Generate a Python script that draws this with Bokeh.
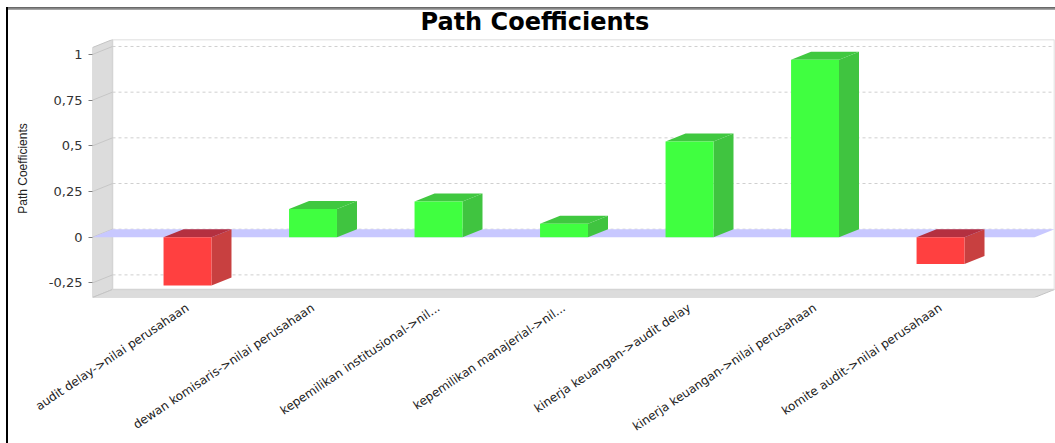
import numpy as np
from bokeh.plotting import figure
from bokeh.models import Range1d, FixedTicker, Title
from bokeh.embed import file_html
from bokeh.resources import INLINE

# ---------------- data ----------------
categories = [
    "audit delay->nilai perusahaan",
    "dewan komisaris->nilai perusahaan",
    "kepemilikan institusional->nil...",
    "kepemilikan manajerial->nil...",
    "kinerja keuangan->audit delay",
    "kinerja keuangan->nilai perusahaan",
    "komite audit->nilai perusahaan",
]
coefficients = [-0.264, 0.155, 0.195, 0.073, 0.524, 0.971, -0.146]
y_ticks = [-0.25, 0, 0.25, 0.5, 0.75, 1]
y_tick_labels = ["-0,25", "0", "0,25", "0,5", "0,75", "1"]
chart_title = "Path Coefficients"
y_axis_title = "Path Coefficients"

# ---------------- geometry (3D look) ----------------
X0, XR = -0.757, 6.908        # front-left edge, back-right edge
YB, YT = -0.330, 1.082        # front-bottom edge, back-top edge
DX, DY = 0.1594, 0.0438       # depth offsets
BW = 0.382                    # bar width
LABEL_SHIFT = 0.0

p = figure(width=1055, height=443, output_backend="svg", toolbar_location=None,
           x_range=Range1d(X0, XR), y_range=Range1d(YB, YT), title=None,
           min_border_left=92, min_border_right=1, min_border_top=39,
           min_border_bottom=146)
p.background_fill_color = "white"
p.border_fill_color = None
p.outline_line_color = None
p.grid.visible = False
# outer frame lines of the chart panel (top grey rule, left black rule)
p.styles = {
    "background": ("linear-gradient(#000000, #000000) 6px 7px / 2px 436px no-repeat, "
                   "linear-gradient(#5a5a5a, #b4b4b4) 6px 7px / 1049px 3px no-repeat, "
                   "white")
}

# title
p.add_layout(Title(text=chart_title, align="left", offset=328, standoff=7,
                   text_font="DejaVu Sans", text_font_style="bold",
                   text_font_size="24px", text_color="black"), "above")

# y axis
ya = p.yaxis[0]
ya.ticker = FixedTicker(ticks=y_ticks)
ya.major_label_overrides = {t: s for t, s in zip(y_ticks, y_tick_labels)}
ya.axis_line_color = None
ya.major_tick_line_color = "#808080"
ya.major_tick_out = 4
ya.major_tick_in = 0
ya.minor_tick_line_color = None
ya.major_label_standoff = 6
ya.major_label_text_font = "DejaVu Sans"
ya.major_label_text_font_size = "13px"
ya.major_label_text_color = "#333333"
ya.axis_label = y_axis_title
ya.axis_label_text_font = "Liberation Sans"
ya.axis_label_text_font_size = "12px"
ya.axis_label_text_font_style = "normal"
ya.axis_label_text_color = "#222222"
ya.axis_label_standoff = 16

# x axis (category labels)
idx = np.arange(len(categories))
x_tick_pos = [float(i) + LABEL_SHIFT for i in idx]
xa = p.xaxis[0]
xa.ticker = FixedTicker(ticks=x_tick_pos)
xa.major_label_overrides = {t: c for t, c in zip(x_tick_pos, categories)}
xa.major_label_orientation = 0.59
xa.axis_line_color = None
xa.major_tick_line_color = None
xa.major_tick_out = 0
xa.major_tick_in = 0
xa.minor_tick_line_color = None
xa.major_label_standoff = 9
xa.major_label_text_font = "DejaVu Sans"
xa.major_label_text_font_size = "12px"
xa.major_label_text_color = "#222222"

# left wall
p.patch([X0, X0, X0 + DX, X0 + DX], [YB, YT - DY, YT, YB + DY],
        fill_color="#dcdcdc", line_color="#c4c4c4", line_width=1)
# floor
p.patch([X0, X0 + DX, XR, XR - DX], [YB, YB + DY, YB + DY, YB],
        fill_color="#dcdcdc", line_color="#c4c4c4", line_width=1)
# back wall
p.quad(left=X0 + DX, right=XR, bottom=YB + DY, top=YT,
       fill_color="white", line_color="#d4d4d4", line_width=1.5)

# grid lines on back wall and left wall
n = len(y_ticks)
p.segment(x0=[X0 + DX] * n, y0=[t + DY for t in y_ticks],
          x1=[XR] * n, y1=[t + DY for t in y_ticks],
          line_color="#cfcfcf", line_dash="3 3", line_width=1)
p.segment(x0=[X0] * n, y0=y_ticks, x1=[X0 + DX] * n, y1=[t + DY for t in y_ticks],
          line_color="#c6c6c6", line_width=1)

# zero plane
p.patch([X0, X0 + DX, XR, XR - DX], [0, DY, DY, 0],
        fill_color="#c8c8ff", line_color=None)

# bars
vals = np.array(coefficients)
front_col = ["#40ff40" if v >= 0 else "#ff4040" for v in vals]
side_col = ["#40c440" if v >= 0 else "#c84040" for v in vals]
top_col = ["#40c840" if v >= 0 else "#b43040" for v in vals]

side_xs, side_ys, top_xs, top_ys = [], [], [], []
for i, v in zip(idx, vals):
    xl, xr = i - BW / 2, i + BW / 2
    side_xs.append([xr, xr + DX, xr + DX, xr])
    side_ys.append([0, DY, v + DY, v])
    ytop = max(v, 0)
    top_xs.append([xl, xl + DX, xr + DX, xr])
    top_ys.append([ytop, ytop + DY, ytop + DY, ytop])

p.patches(side_xs, side_ys, fill_color=side_col, line_color=None)
p.patches(top_xs, top_ys, fill_color=top_col, line_color=None)
p.vbar(x=idx, top=vals, bottom=0, width=BW, fill_color=front_col, line_color=None)

open("out.html", "w").write(file_html(p, INLINE))
